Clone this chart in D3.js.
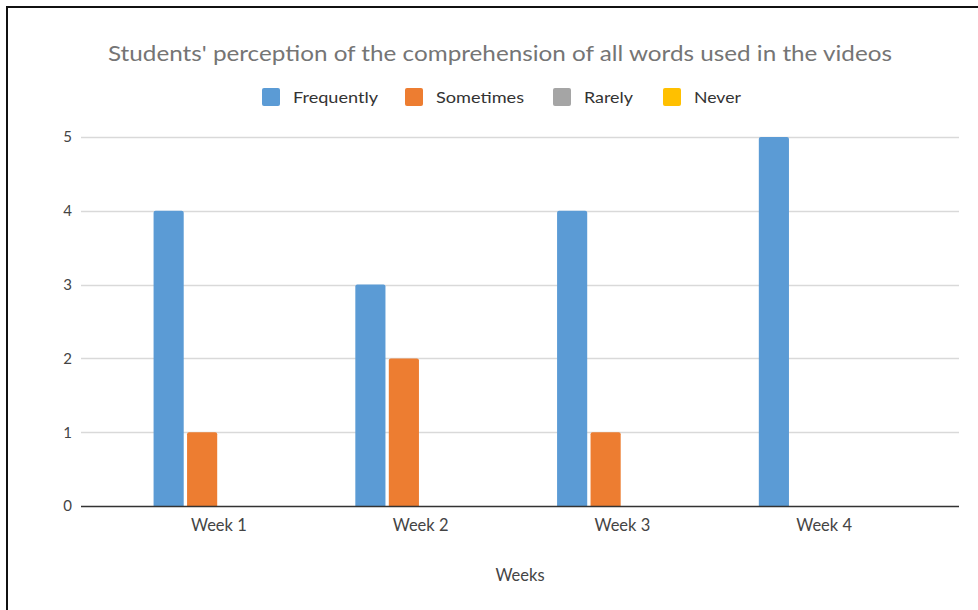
<!DOCTYPE html>
<html><head><meta charset="utf-8">
<script src="https://cdn.jsdelivr.net/npm/d3@7"></script>
<style>html,body{margin:0;padding:0;background:#fff;}svg{display:block;}</style>
</head><body>
<script>
const title = "Students' perception of the comprehension of all words used in the videos";
const weeks = ["Week 1", "Week 2", "Week 3", "Week 4"];
const seriesNames = ["Frequently", "Sometimes", "Rarely", "Never"];
const seriesColors = ["#5b9bd5", "#ed7d31", "#a5a5a5", "#ffc000"];
const frequently = [4, 3, 4, 5];
const sometimes = [1, 2, 1, 0];
const rarely = [0, 0, 0, 0];
const never = [0, 0, 0, 0];
const yTicks = [0, 1, 2, 3, 4, 5];
const xTitle = "Weeks";

const values = [frequently, sometimes, rarely, never];
const W = 978, H = 610;
const font = "Lato, 'Open Sans', sans-serif";
const svg = d3.select("body").append("svg").attr("width", W).attr("height", H);
svg.append("rect").attr("width", W).attr("height", H).attr("fill", "#fff");
// frame
svg.append("rect").attr("x", 7).attr("y", 7).attr("width", W + 20).attr("height", H + 20)
  .attr("fill", "none").attr("stroke", "#111").attr("stroke-width", 2);

const plotL = 81, plotR = 959;
const y = d3.scaleLinear().domain([0, 5]).range([506, 137]);
const x0 = d3.scaleBand().domain(weeks).range([118, 925]).paddingInner(0.346).paddingOuter(0.173);
const x1 = d3.scaleBand().domain(seriesNames).range([0, x0.bandwidth()]).paddingInner(0.1).paddingOuter(0.02);

// gridlines
svg.append("g").selectAll("line").data(yTicks.filter(d => d > 0)).join("line")
  .attr("x1", plotL).attr("x2", plotR)
  .attr("y1", d => Math.round(y(d)) + 0.5).attr("y2", d => Math.round(y(d)) + 0.5)
  .attr("stroke", "#d9d9d9").attr("stroke-width", 1.5);

// y axis labels
const yAxis = d3.axisLeft(y).tickValues(yTicks).tickFormat(d3.format("d")).tickSize(0).tickPadding(0);
const gy = svg.append("g").attr("transform", `translate(${72},0)`).call(yAxis);
gy.select(".domain").remove();
gy.selectAll("text").attr("font-family", font).attr("font-size", 15).attr("fill", "#444");

// bars
const g = svg.append("g");
weeks.forEach((w, i) => {
  seriesNames.forEach((s, j) => {
    const v = values[j][i];
    if (v <= 0) return;
    const bx = x0(w) + x1(s), bw = x1.bandwidth();
    const top = y(v);
    g.append("path")
      .attr("d", `M${bx},${y(0)} V${top + 2} Q${bx},${top} ${bx + 2},${top} H${bx + bw - 2} Q${bx + bw},${top} ${bx + bw},${top + 2} V${y(0)} Z`)
      .attr("fill", seriesColors[j]);
  });
});

// x axis line
svg.append("line").attr("x1", plotL).attr("x2", plotR).attr("y1", 506.5).attr("y2", 506.5)
  .attr("stroke", "#333").attr("stroke-width", 1.5);
const xAxis = d3.axisBottom(x0).tickSize(0).tickPadding(0);
const gx = svg.append("g").attr("transform", `translate(0,${519})`).call(xAxis);
gx.select(".domain").remove();
gx.selectAll("text").attr("font-family", font).attr("font-size", 16.5).attr("fill", "#444").attr("dy", "0.71em");

svg.append("text").attr("x", 520).attr("y", 581).attr("text-anchor", "middle")
  .attr("font-family", font).attr("font-size", 16.5).attr("fill", "#444").text(xTitle);

// title
svg.append("text").attr("x", 500).attr("y", 61).attr("text-anchor", "middle")
  .attr("font-family", font).attr("font-size", 21).attr("fill", "#757575")
  .attr("textLength", 784).attr("lengthAdjust", "spacingAndGlyphs").text(title);

// legend
const legX = [262, 405, 553, 663];
const legTextW = [85, 88, 49, 47];
const leg = svg.append("g");
seriesNames.forEach((s, j) => {
  leg.append("rect").attr("x", legX[j]).attr("y", 88).attr("width", 18).attr("height", 18)
    .attr("rx", 2).attr("fill", seriesColors[j]);
  leg.append("text").attr("x", legX[j] + 31).attr("y", 103)
    .attr("font-family", font).attr("font-size", 15).attr("fill", "#333")
    .attr("textLength", legTextW[j]).attr("lengthAdjust", "spacingAndGlyphs").text(s);
});
</script>
</body></html>
